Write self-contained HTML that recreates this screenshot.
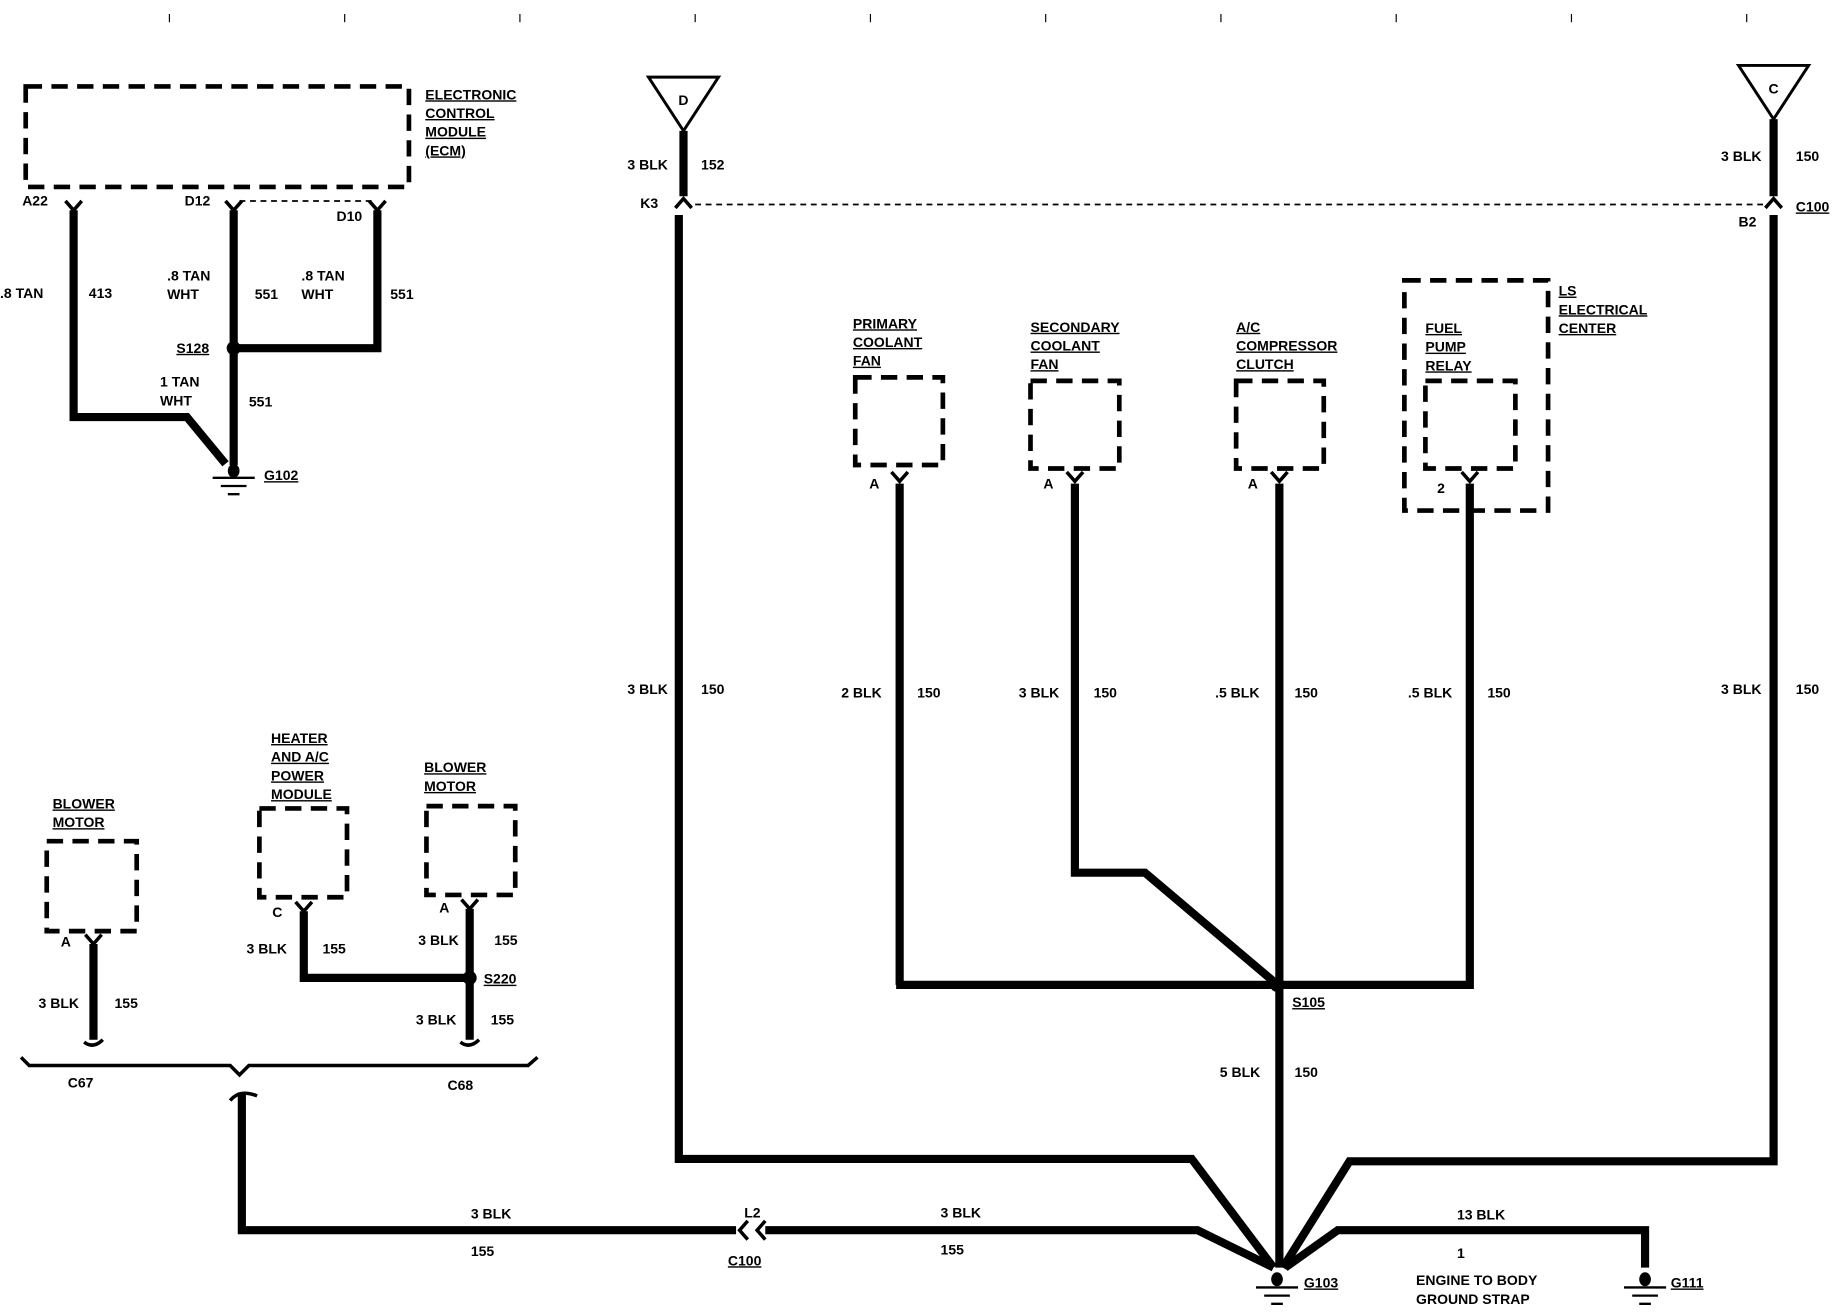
<!DOCTYPE html>
<html><head><meta charset="utf-8"><style>
html,body{margin:0;padding:0;background:#fff;width:1832px;height:1312px;overflow:hidden}
svg{display:block}
text{font-family:"Liberation Sans",sans-serif;font-weight:bold;font-size:12px;fill:#000}
.u{text-decoration:underline}
</style></head><body>
<svg width="1832" height="1312" viewBox="0 0 1568 1123" preserveAspectRatio="none" xmlns="http://www.w3.org/2000/svg">
<g stroke="#000" stroke-width="1">
<line x1="145" y1="12" x2="145" y2="19"/><line x1="295" y1="12" x2="295" y2="19"/><line x1="445" y1="12" x2="445" y2="19"/><line x1="595" y1="12" x2="595" y2="19"/><line x1="745" y1="12" x2="745" y2="19"/><line x1="895" y1="12" x2="895" y2="19"/><line x1="1045" y1="12" x2="1045" y2="19"/><line x1="1195" y1="12" x2="1195" y2="19"/><line x1="1345" y1="12" x2="1345" y2="19"/><line x1="1495" y1="12" x2="1495" y2="19"/>
</g>
<!-- dashed boxes -->
<g fill="none" stroke="#000" stroke-width="4" stroke-dasharray="14,8">
<rect x="22" y="74" width="328" height="86"/>
<rect x="732" y="323" width="75" height="75"/>
<rect x="882" y="326" width="76" height="75"/>
<rect x="1058" y="326" width="75" height="75"/>
<rect x="1220" y="326" width="77" height="75"/>
<rect x="1202" y="240" width="123" height="197"/>
<rect x="40" y="720" width="77" height="77"/>
<rect x="222" y="692" width="75" height="76"/>
<rect x="365" y="690" width="76" height="76"/>
</g>
<g fill="none" stroke="#000" stroke-width="1.5" stroke-dasharray="5,4">
<line x1="205" y1="172" x2="320" y2="172"/>
<line x1="595" y1="175" x2="1510" y2="175"/>
</g>
<!-- wires -->
<g fill="none" stroke="#000" stroke-width="7" stroke-linejoin="miter">
<polyline points="63,180 63,357 160,357 193,397"/>
<line x1="200" y1="180" x2="200" y2="398"/>
<polyline points="323,180 323,298 200,298"/>
<line x1="585" y1="112" x2="585" y2="168"/>
<polyline points="581,184 581,992 1020,992 1090,1085"/>
<line x1="1518" y1="102" x2="1518" y2="168"/>
<polyline points="1518,184 1518,994 1155,994 1098,1085"/>
<line x1="770" y1="414" x2="770" y2="843"/>
<polyline points="767,843 1092,843 1258,843 1258,414"/>
<polyline points="920,414 920,747 980,747 1090,840"/>
<line x1="1095" y1="414" x2="1095" y2="1085"/>
<polyline points="80,808 80,890"/>
<polyline points="260,780 260,837 402,837"/>
<line x1="402" y1="778" x2="402" y2="890"/>
<polyline points="207,935 207,1053 630,1053"/>
<polyline points="655,1053 1025,1053 1090,1085"/>
<polyline points="1408,1085 1408,1053 1145,1053 1100,1085"/>
</g>
<!-- connector Vs -->
<g fill="none" stroke="#000" stroke-width="3">
<polyline points="56,172 63,180 70,172"/><polyline points="193,172 200,180 207,172"/><polyline points="316,172 323,180 330,172"/>
<polyline points="578,178 585,170 592,178"/><polyline points="1511,178 1518,170 1525,178"/>
<polyline points="763,404 770,412 777,404"/><polyline points="913,404 920,412 927,404"/><polyline points="1088,404 1095,412 1102,404"/><polyline points="1251,404 1258,412 1265,404"/>
<polyline points="73,800 80,808 87,800"/><polyline points="253,772 260,780 267,772"/><polyline points="395,770 402,778 409,770"/>
<path d="M72,892 Q80,898 88,890"/><path d="M394,892 Q402,898 410,890"/>
<polyline points="18,905 25,912 197,912 205,920 213,912 452,912 460,905"/>
<path d="M197,942 Q205,932 220,938"/>
<polyline points="640,1045 633,1053 640,1061"/><polyline points="655,1045 648,1053 655,1061"/>
</g>
<!-- triangles -->
<g fill="#fff" stroke="#000" stroke-width="2.5">
<polygon points="555,66 615,66 585,112"/><polygon points="1488,56 1548,56 1518,102"/>
</g>
<!-- dots & grounds -->
<g fill="#000">
<circle cx="200" cy="298" r="6"/><circle cx="1093" cy="843" r="6"/><circle cx="402" cy="837" r="6"/>
<ellipse cx="200" cy="403" rx="5" ry="6"/><ellipse cx="1093" cy="1095" rx="5" ry="6"/><ellipse cx="1408" cy="1095" rx="5" ry="6"/>
</g>
<g stroke="#000" stroke-width="2">
<line x1="182" y1="409" x2="218" y2="409"/><line x1="189" y1="416" x2="211" y2="416"/><line x1="195" y1="423" x2="205" y2="423"/>
<line x1="1075" y1="1102" x2="1111" y2="1102"/><line x1="1082" y1="1109" x2="1104" y2="1109"/><line x1="1088" y1="1116" x2="1098" y2="1116"/>
<line x1="1390" y1="1102" x2="1426" y2="1102"/><line x1="1397" y1="1109" x2="1419" y2="1109"/><line x1="1403" y1="1116" x2="1413" y2="1116"/>
</g>
<!-- text -->
<text x="585" y="90" text-anchor="middle" font-size="15">D</text>
<text x="1518" y="80" text-anchor="middle" font-size="15">C</text>
<text x="364" y="85" class="u">ELECTRONIC</text><text x="364" y="101" class="u">CONTROL</text><text x="364" y="117" class="u">MODULE</text><text x="364" y="133" class="u">(ECM)</text>
<text x="19" y="176">A22</text><text x="158" y="176">D12</text><text x="288" y="189">D10</text>
<text x="0" y="255">.8 TAN</text><text x="76" y="255">413</text>
<text x="143" y="240">.8 TAN</text><text x="143" y="256">WHT</text><text x="218" y="256">551</text>
<text x="258" y="240">.8 TAN</text><text x="258" y="256">WHT</text><text x="334" y="256">551</text>
<text x="151" y="302" class="u">S128</text>
<text x="137" y="331">1 TAN</text><text x="137" y="347">WHT</text><text x="213" y="348">551</text>
<text x="226" y="411" class="u">G102</text>
<text x="537" y="145">3 BLK</text><text x="600" y="145">152</text><text x="548" y="178">K3</text>
<text x="1473" y="138">3 BLK</text><text x="1537" y="138">150</text><text x="1537" y="181" class="u">C100</text><text x="1488" y="194">B2</text>
<text x="1334" y="253" class="u">LS</text><text x="1334" y="269" class="u">ELECTRICAL</text><text x="1334" y="285" class="u">CENTER</text>
<text x="730" y="281" class="u">PRIMARY</text><text x="730" y="297" class="u">COOLANT</text><text x="730" y="313" class="u">FAN</text>
<text x="882" y="284" class="u">SECONDARY</text><text x="882" y="300" class="u">COOLANT</text><text x="882" y="316" class="u">FAN</text>
<text x="1058" y="284" class="u">A/C</text><text x="1058" y="300" class="u">COMPRESSOR</text><text x="1058" y="316" class="u">CLUTCH</text>
<text x="1220" y="285" class="u">FUEL</text><text x="1220" y="301" class="u">PUMP</text><text x="1220" y="317" class="u">RELAY</text>
<text x="744" y="418">A</text><text x="893" y="418">A</text><text x="1068" y="418">A</text><text x="1230" y="422">2</text>
<text x="537" y="594">3 BLK</text><text x="600" y="594">150</text>
<text x="720" y="597">2 BLK</text><text x="785" y="597">150</text>
<text x="872" y="597">3 BLK</text><text x="936" y="597">150</text>
<text x="1040" y="597">.5 BLK</text><text x="1108" y="597">150</text>
<text x="1205" y="597">.5 BLK</text><text x="1273" y="597">150</text>
<text x="1473" y="594">3 BLK</text><text x="1537" y="594">150</text>
<text x="1106" y="862" class="u">S105</text>
<text x="1044" y="922">5 BLK</text><text x="1108" y="922">150</text>
<text x="232" y="636" class="u">HEATER</text><text x="232" y="652" class="u">AND A/C</text><text x="232" y="668" class="u">POWER</text><text x="232" y="684" class="u">MODULE</text>
<text x="363" y="661" class="u">BLOWER</text><text x="363" y="677" class="u">MOTOR</text>
<text x="45" y="692" class="u">BLOWER</text><text x="45" y="708" class="u">MOTOR</text>
<text x="52" y="810">A</text><text x="233" y="785">C</text><text x="376" y="781">A</text>
<text x="211" y="816">3 BLK</text><text x="276" y="816">155</text>
<text x="358" y="809">3 BLK</text><text x="423" y="809">155</text>
<text x="414" y="842" class="u">S220</text>
<text x="356" y="877">3 BLK</text><text x="420" y="877">155</text>
<text x="33" y="863">3 BLK</text><text x="98" y="863">155</text>
<text x="58" y="931">C67</text><text x="383" y="933">C68</text>
<text x="403" y="1043">3 BLK</text><text x="403" y="1075">155</text>
<text x="637" y="1042">L2</text><text x="623" y="1083" class="u">C100</text>
<text x="805" y="1042">3 BLK</text><text x="805" y="1074">155</text>
<text x="1247" y="1044">13 BLK</text><text x="1247" y="1077">1</text>
<text x="1116" y="1102" class="u">G103</text>
<text x="1212" y="1100">ENGINE TO BODY</text><text x="1212" y="1116">GROUND STRAP</text>
<text x="1430" y="1102" class="u">G111</text>
</svg>
</body></html>
